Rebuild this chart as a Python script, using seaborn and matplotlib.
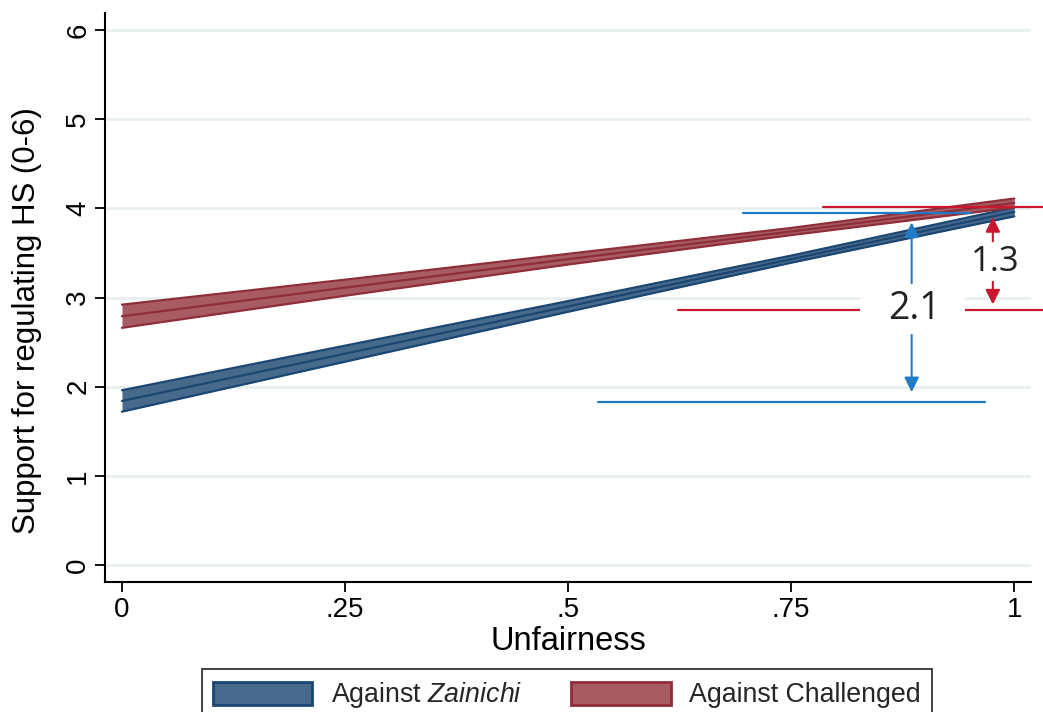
import matplotlib
matplotlib.use("Agg")
import matplotlib.pyplot as plt
import pandas as pd
import seaborn as sns
from matplotlib.patches import Patch, Rectangle

# Predicted support (linear fit) with 95% CI across unfairness
unfairness = [0, 0.25, 0.5, 0.75, 1]
zainichi_fit = [1.84, 2.37, 2.90, 3.43, 3.96]
zainichi_lo = [1.72, 2.28, 2.84, 3.39, 3.91]
zainichi_hi = [1.96, 2.46, 2.96, 3.47, 4.01]
challenged_fit = [2.79, 3.11, 3.43, 3.74, 4.06]
challenged_lo = [2.66, 3.02, 3.37, 3.70, 4.01]
challenged_hi = [2.92, 3.20, 3.49, 3.78, 4.11]

group_names = ["Against Zainichi", "Against Challenged"]
legend_labels = [r"Against $\it{Zainichi}$", "Against Challenged"]
x_ticks = [0, 0.25, 0.5, 0.75, 1]
x_tick_labels = ["0", ".25", ".5", ".75", "1"]
y_ticks = [0, 1, 2, 3, 4, 5, 6]

# Gap annotations: reference levels and labels
zainichi_levels = [1.83, 3.95]
challenged_levels = [2.86, 4.01]
gap_labels = ["2.1", "1.3"]

sns.set_theme(style="ticks")
plt.rcParams["font.family"] = ["Liberation Sans", "DejaVu Sans"]
plt.rcParams["mathtext.fontset"] = "custom"
plt.rcParams["mathtext.rm"] = "Liberation Sans"
plt.rcParams["mathtext.it"] = "Liberation Sans:italic"

fills = {"Against Zainichi": "#476a8c", "Against Challenged": "#a65c62"}
edges = {"Against Zainichi": "#1b4672", "Against Challenged": "#8f2d39"}
blue_ann = "#1f7bc6"
red_ann = "#c8172e"

rows = []
for name, fit, lo, hi in [
    (group_names[0], zainichi_fit, zainichi_lo, zainichi_hi),
    (group_names[1], challenged_fit, challenged_lo, challenged_hi),
]:
    for x, f, l, h in zip(unfairness, fit, lo, hi):
        rows.append({"Unfairness": x, "group": name, "fit": f, "lo": l, "hi": h})
df = pd.DataFrame(rows)

fig = plt.figure(figsize=(10.43, 7.12), dpi=100)
ax = fig.add_axes([0.1007, 0.1826, 0.888, 0.7991])

for i, name in enumerate(group_names):
    sub = df[df["group"] == name]
    z = 2 + i * 2
    ax.fill_between(sub["Unfairness"], sub["lo"], sub["hi"],
                    color=fills[name], lw=0, zorder=z)
    for col in ["lo", "fit", "hi"]:
        sns.lineplot(data=sub, x="Unfairness", y=col, color=edges[name],
                     lw=1.6, ax=ax, zorder=z + 0.5, legend=False)

ax.set_xlim(-0.019, 1.019)
ax.set_ylim(-0.19, 6.19)
ax.set_xticks(x_ticks)
ax.set_xticklabels(x_tick_labels)
ax.set_yticks(y_ticks)
ax.set_yticklabels([str(v) for v in y_ticks], rotation=90, va="center")
ax.grid(axis="y", color="#e9f0f2", lw=2)
ax.set_axisbelow(True)

for s in ["top", "right"]:
    ax.spines[s].set_visible(False)
for s in ["left", "bottom"]:
    ax.spines[s].set_color("black")
    ax.spines[s].set_linewidth(1.5)
ax.tick_params(axis="both", direction="out", length=7, width=1.3,
               color="black", labelsize=20, labelcolor="black")
ax.tick_params(axis="y", pad=3)
ax.tick_params(axis="x", pad=4)

ax.set_xlabel("Unfairness", fontsize=23.5, color="black", labelpad=2)
ax.set_ylabel("Support for regulating HS (0-6)", fontsize=22.5, color="black")
ax.yaxis.set_label_coords(-0.068, 0.46)

# Reference lines for the gaps
ax.plot([0.533, 0.967], [zainichi_levels[0]] * 2, color=blue_ann, lw=1.6, zorder=7)
ax.plot([0.696, 0.951], [zainichi_levels[1]] * 2, color=blue_ann, lw=1.6, zorder=7)
ax.plot([0.623, 1.033], [challenged_levels[0]] * 2, color=red_ann, lw=1.6,
        zorder=7, clip_on=False)
ax.plot([0.786, 1.033], [challenged_levels[1]] * 2, color=red_ann, lw=1.6,
        zorder=7, clip_on=False)

# White box behind the larger gap label
ax.add_patch(Rectangle((0.827, 2.58), 0.118, 0.58, facecolor="white",
                       edgecolor="none", zorder=8))

arrow_kw = dict(arrowstyle="-|>", lw=1.5, mutation_scale=22, shrinkA=0, shrinkB=7)
bx = 0.885
ax.annotate("", xy=(bx, zainichi_levels[1]), xytext=(bx, 3.16),
            arrowprops=dict(color=blue_ann, **arrow_kw), zorder=9)
ax.annotate("", xy=(bx, zainichi_levels[0]), xytext=(bx, 2.58),
            arrowprops=dict(color=blue_ann, **arrow_kw), zorder=9)
ax.text(bx + 0.003, 2.87, gap_labels[0], fontsize=27, family="Open Sans",
        color="#222222", ha="center", va="center", zorder=10)

rx = 0.976
ax.annotate("", xy=(rx, challenged_levels[1]), xytext=(rx, 3.63),
            arrowprops=dict(color=red_ann, **arrow_kw), zorder=9)
ax.annotate("", xy=(rx, challenged_levels[0]), xytext=(rx, 3.22),
            arrowprops=dict(color=red_ann, **dict(arrow_kw, shrinkB=4)), zorder=9)
ax.text(rx + 0.003, 3.40, gap_labels[1], fontsize=25, family="Open Sans",
        color="#222222", ha="center", va="center", zorder=10,
        bbox=dict(boxstyle="square,pad=0.05", facecolor="white", edgecolor="none"))

handles = [Patch(facecolor=fills[n], edgecolor=edges[n], lw=2) for n in group_names]
leg = fig.legend(handles, legend_labels, loc="upper left",
                 bbox_to_anchor=(0.1937, 0.0604), bbox_transform=fig.transFigure,
                 ncol=2, frameon=True, fancybox=False, edgecolor="black",
                 fontsize=19.3, handlelength=3.7, handleheight=0.94,
                 handletextpad=0.68, columnspacing=1.84, borderpad=0.42,
                 borderaxespad=0)
leg.get_frame().set_linewidth(1.3)

fig.savefig("out.png", dpi=100)
